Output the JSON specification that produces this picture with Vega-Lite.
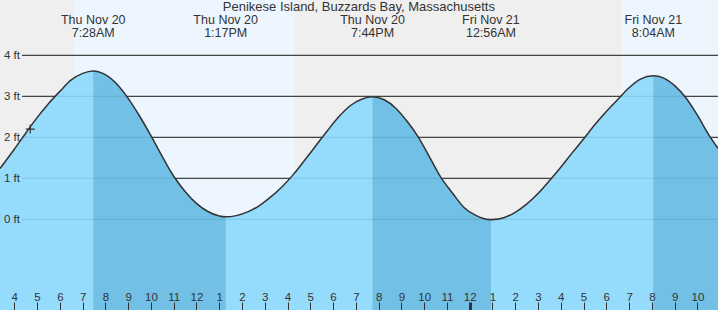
{
  "$schema": "https://vega.github.io/schema/vega-lite/v6.json",
  "width": 718,
  "height": 310,
  "autosize": {"type": "none"},
  "padding": 0,
  "background": "#efefef",
  "config": {
    "view": {"stroke": null},
    "font": "Liberation Sans"
  },
  "data": {
    "values": [
      {"t": "2025-11-20T03:22:19", "ft": 1.24},
      {"t": "2025-11-20T03:45", "ft": 1.52},
      {"t": "2025-11-20T04:00", "ft": 1.71},
      {"t": "2025-11-20T04:30", "ft": 2.10},
      {"t": "2025-11-20T05:00", "ft": 2.48},
      {"t": "2025-11-20T05:30", "ft": 2.82},
      {"t": "2025-11-20T06:00", "ft": 3.12},
      {"t": "2025-11-20T06:30", "ft": 3.40},
      {"t": "2025-11-20T07:00", "ft": 3.56},
      {"t": "2025-11-20T07:28", "ft": 3.62},
      {"t": "2025-11-20T08:00", "ft": 3.53},
      {"t": "2025-11-20T08:30", "ft": 3.30},
      {"t": "2025-11-20T09:00", "ft": 2.95},
      {"t": "2025-11-20T09:30", "ft": 2.52},
      {"t": "2025-11-20T10:00", "ft": 2.04},
      {"t": "2025-11-20T10:30", "ft": 1.53},
      {"t": "2025-11-20T11:00", "ft": 1.05},
      {"t": "2025-11-20T11:30", "ft": 0.68},
      {"t": "2025-11-20T12:00", "ft": 0.39},
      {"t": "2025-11-20T12:30", "ft": 0.19},
      {"t": "2025-11-20T13:00", "ft": 0.08},
      {"t": "2025-11-20T13:17", "ft": 0.06},
      {"t": "2025-11-20T13:45", "ft": 0.09},
      {"t": "2025-11-20T14:15", "ft": 0.18},
      {"t": "2025-11-20T14:45", "ft": 0.33},
      {"t": "2025-11-20T15:15", "ft": 0.54},
      {"t": "2025-11-20T15:45", "ft": 0.79},
      {"t": "2025-11-20T16:15", "ft": 1.09},
      {"t": "2025-11-20T16:45", "ft": 1.44},
      {"t": "2025-11-20T17:15", "ft": 1.80},
      {"t": "2025-11-20T17:45", "ft": 2.16},
      {"t": "2025-11-20T18:15", "ft": 2.50},
      {"t": "2025-11-20T18:45", "ft": 2.77},
      {"t": "2025-11-20T19:15", "ft": 2.93},
      {"t": "2025-11-20T19:44", "ft": 2.99},
      {"t": "2025-11-20T20:15", "ft": 2.915},
      {"t": "2025-11-20T20:45", "ft": 2.71},
      {"t": "2025-11-20T21:15", "ft": 2.39},
      {"t": "2025-11-20T21:45", "ft": 2.00},
      {"t": "2025-11-20T22:15", "ft": 1.505},
      {"t": "2025-11-20T22:45", "ft": 1.01},
      {"t": "2025-11-20T23:15", "ft": 0.635},
      {"t": "2025-11-20T23:45", "ft": 0.29},
      {"t": "2025-11-21T00:15", "ft": 0.10},
      {"t": "2025-11-21T00:36", "ft": 0.02},
      {"t": "2025-11-21T00:56", "ft": -0.01},
      {"t": "2025-11-21T01:30", "ft": 0.04},
      {"t": "2025-11-21T02:00", "ft": 0.17},
      {"t": "2025-11-21T02:30", "ft": 0.37},
      {"t": "2025-11-21T03:00", "ft": 0.63},
      {"t": "2025-11-21T03:30", "ft": 0.94},
      {"t": "2025-11-21T04:00", "ft": 1.27},
      {"t": "2025-11-21T04:30", "ft": 1.62},
      {"t": "2025-11-21T05:00", "ft": 1.96},
      {"t": "2025-11-21T05:30", "ft": 2.31},
      {"t": "2025-11-21T06:00", "ft": 2.63},
      {"t": "2025-11-21T06:30", "ft": 2.92},
      {"t": "2025-11-21T07:00", "ft": 3.21},
      {"t": "2025-11-21T07:30", "ft": 3.42},
      {"t": "2025-11-21T08:04", "ft": 3.50},
      {"t": "2025-11-21T08:30", "ft": 3.45},
      {"t": "2025-11-21T09:00", "ft": 3.26},
      {"t": "2025-11-21T09:30", "ft": 2.96},
      {"t": "2025-11-21T10:00", "ft": 2.54},
      {"t": "2025-11-21T10:30", "ft": 2.06},
      {"t": "2025-11-21T10:54:18", "ft": 1.73}
    ],
    "format": {"parse": {"t": "date"}}
  },
  "layer": [
    {
      "data": {
        "values": [
          {"start": "2025-11-20T03:22:19", "end": "2025-11-20T06:37", "kind": "night"},
          {"start": "2025-11-20T06:37", "end": "2025-11-20T16:20", "kind": "day"},
          {"start": "2025-11-20T16:20", "end": "2025-11-21T06:39", "kind": "night"},
          {"start": "2025-11-21T06:39", "end": "2025-11-21T10:54:18", "kind": "day"}
        ],
        "format": {"parse": {"start": "date", "end": "date"}}
      },
      "mark": {"type": "rect"},
      "encoding": {
        "x": {
          "field": "start", "type": "temporal",
          "scale": {"nice": false},
          "axis": {
            "orient": "top",
            "offset": -310,
            "zindex": 2,
            "title": null,
            "format": "%-I",
            "tickCount": 32,
            "domain": false,
            "grid": false,
            "tickSize": 8,
            "tickColor": "#333333",
            "tickWidth": {"condition": {"test": "hours(datum.value) === 0", "value": 3}, "value": 1},
            "labelBaseline": "alphabetic",
            "labelPadding": 2,
            "labelFontSize": 11.5,
            "labelColor": "#333333",
            "labelFont": "Liberation Sans",
            "labelOverlap": false,
            "labelFlush": false
          }
        },
        "x2": {"field": "end"},
        "color": {
          "field": "kind", "type": "nominal",
          "scale": {"domain": ["night", "day"], "range": ["#efefef", "#edf6fe"]},
          "legend": null
        }
      }
    },
    {
      "data": {
        "values": [
          {"ft": 0, "from": "2025-11-20T04:20:17", "to": "2025-11-21T10:54:18"},
          {"ft": 1, "from": "2025-11-20T04:20:17", "to": "2025-11-21T10:54:18"},
          {"ft": 2, "from": "2025-11-20T04:20:17", "to": "2025-11-21T10:54:18"},
          {"ft": 3, "from": "2025-11-20T04:20:17", "to": "2025-11-21T10:54:18"},
          {"ft": 4, "from": "2025-11-20T04:20:17", "to": "2025-11-21T10:54:18"}
        ],
        "format": {"parse": {"from": "date", "to": "date"}}
      },
      "mark": {"type": "rule", "stroke": "#222222", "strokeWidth": 1},
      "encoding": {
        "y": {
          "field": "ft", "type": "quantitative",
          "scale": {"domain": [-2.212, 5.349], "nice": false, "zero": false},
          "axis": {
            "orient": "left",
            "offset": -21.5,
            "zindex": 2,
            "title": null,
            "values": [0, 1, 2, 3, 4],
            "labelExpr": "datum.value + ' ft'",
            "domain": false,
            "ticks": false,
            "grid": false,
            "labelPadding": 2,
            "labelFontSize": 11.5,
            "labelColor": "#333333",
            "labelFont": "Liberation Sans"
          }
        },
        "x": {"field": "from", "type": "temporal"},
        "x2": {"field": "to"}
      }
    },
    {
      "mark": {"type": "area", "interpolate": "monotone", "fill": "#94dbfc"},
      "encoding": {
        "x": {"field": "t", "type": "temporal"},
        "y": {"field": "ft", "type": "quantitative", "stack": null},
        "y2": {"datum": -2.212}
      }
    },
    {
      "transform": [{"filter": "datum.t >= datetime(2025,10,20,7,28) && datum.t <= datetime(2025,10,20,13,17)"}],
      "mark": {"type": "area", "interpolate": "monotone", "fill": "#72c0e5"},
      "encoding": {
        "x": {"field": "t", "type": "temporal"},
        "y": {"field": "ft", "type": "quantitative", "stack": null},
        "y2": {"datum": -2.212}
      }
    },
    {
      "transform": [{"filter": "datum.t >= datetime(2025,10,20,19,44) && datum.t <= datetime(2025,10,21,0,56)"}],
      "mark": {"type": "area", "interpolate": "monotone", "fill": "#72c0e5"},
      "encoding": {
        "x": {"field": "t", "type": "temporal"},
        "y": {"field": "ft", "type": "quantitative", "stack": null},
        "y2": {"datum": -2.212}
      }
    },
    {
      "transform": [{"filter": "datum.t >= datetime(2025,10,21,8,4)"}],
      "mark": {"type": "area", "interpolate": "monotone", "fill": "#72c0e5"},
      "encoding": {
        "x": {"field": "t", "type": "temporal"},
        "y": {"field": "ft", "type": "quantitative", "stack": null},
        "y2": {"datum": -2.212}
      }
    },
    {
      "data": {
        "values": [
          {"ft": 0, "from": "2025-11-20T04:20:17", "to": "2025-11-21T10:54:18"},
          {"ft": 1, "from": "2025-11-20T04:20:17", "to": "2025-11-21T10:54:18"},
          {"ft": 2, "from": "2025-11-20T04:20:17", "to": "2025-11-21T10:54:18"},
          {"ft": 3, "from": "2025-11-20T04:20:17", "to": "2025-11-21T10:54:18"},
          {"ft": 4, "from": "2025-11-20T04:20:17", "to": "2025-11-21T10:54:18"}
        ],
        "format": {"parse": {"from": "date", "to": "date"}}
      },
      "mark": {"type": "rule", "stroke": "#000000", "strokeOpacity": 0.1, "strokeWidth": 1},
      "encoding": {
        "y": {"field": "ft", "type": "quantitative"},
        "x": {"field": "from", "type": "temporal"},
        "x2": {"field": "to"}
      }
    },
    {
      "mark": {"type": "line", "interpolate": "monotone", "stroke": "#333333", "strokeWidth": 1.5},
      "encoding": {
        "x": {"field": "t", "type": "temporal"},
        "y": {"field": "ft", "type": "quantitative"}
      }
    },
    {
      "data": {"values": [{"t": "2025-11-20T04:42", "ft": 2.2}], "format": {"parse": {"t": "date"}}},
      "mark": {"type": "point", "shape": "M-1,0H1M0,-1V1", "size": 81, "filled": false, "stroke": "#333333", "strokeWidth": 1.2, "opacity": 1},
      "encoding": {
        "x": {"field": "t", "type": "temporal"},
        "y": {"field": "ft", "type": "quantitative"}
      }
    },
    {
      "data": {
        "values": [
          {"t": "2025-11-20T07:28", "label": "Thu Nov 20\n7:28AM"},
          {"t": "2025-11-20T13:17", "label": "Thu Nov 20\n1:17PM"},
          {"t": "2025-11-20T19:44", "label": "Thu Nov 20\n7:44PM"},
          {"t": "2025-11-21T00:56", "label": "Fri Nov 21\n12:56AM"},
          {"t": "2025-11-21T08:04", "label": "Fri Nov 21\n8:04AM"}
        ],
        "format": {"parse": {"t": "date"}}
      },
      "mark": {"type": "text", "lineBreak": "\n", "lineHeight": 13, "baseline": "alphabetic", "align": "center", "fontSize": 12.5, "font": "Liberation Sans", "color": "#333333"},
      "encoding": {
        "x": {"field": "t", "type": "temporal"},
        "y": {"datum": 4.764},
        "text": {"field": "label"}
      }
    },
    {
      "data": {"values": [{"t": "2025-11-20T19:08", "label": "Penikese Island, Buzzards Bay, Massachusetts"}], "format": {"parse": {"t": "date"}}},
      "mark": {"type": "text", "baseline": "alphabetic", "align": "center", "fontSize": 13, "font": "Liberation Sans", "color": "#333333"},
      "encoding": {
        "x": {"field": "t", "type": "temporal"},
        "y": {"datum": 5.081},
        "text": {"field": "label"}
      }
    }
  ]
}
